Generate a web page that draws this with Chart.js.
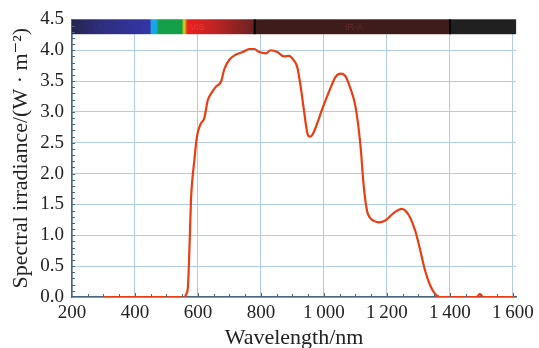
<!DOCTYPE html>
<html>
<head>
<meta charset="utf-8">
<script src="https://cdn.jsdelivr.net/npm/chart.js@4"></script>
<style>
  body { margin: 0; background: #fff; }
  #wrap { width: 539px; height: 348px; }
</style>
</head>
<body>
<div id="wrap"><canvas id="spectrum-chart"></canvas></div>
<script>
'use strict';

// wavelength (nm) and spectral irradiance
const wavelengths = [300, 400, 500, 557, 563, 568, 573, 578, 583, 589, 594, 599, 605, 610, 620, 631, 642, 657, 673, 684,
  700, 721, 742, 763, 779, 794, 816, 831, 852, 873, 889, 905, 915, 926, 936, 947, 955, 962, 973, 994,
  1016, 1037, 1053, 1068, 1084, 1100, 1116, 1126, 1137, 1147, 1160, 1174, 1195, 1221, 1247, 1269, 1290, 1306, 1321, 1337,
  1353, 1369, 1400, 1480, 1488, 1495, 1502, 1510, 1600];
const irradiance = [0, 0, 0, 0, 0.05, 0.16, 0.8, 1.6, 1.95, 2.24, 2.5, 2.66, 2.76, 2.82, 2.9, 3.19, 3.3, 3.41, 3.49, 3.7,
  3.85, 3.93, 3.97, 4.02, 4.02, 3.97, 3.95, 4.0, 3.97, 3.9, 3.91, 3.83, 3.73, 3.41, 3.04, 2.66, 2.6, 2.62, 2.74, 3.04,
  3.33, 3.57, 3.62, 3.58, 3.38, 3.09, 2.45, 1.81, 1.39, 1.28, 1.23, 1.21, 1.24, 1.36, 1.43, 1.33, 1.07, 0.75, 0.43, 0.19,
  0.05, 0, 0, 0, 0.01, 0.05, 0.01, 0, 0];

// axis ticks
const xTicks = [200, 400, 600, 800, 1000, 1200, 1400, 1600];
const yTicks = [0, 0.5, 1, 1.5, 2, 2.5, 3, 3.5, 4, 4.5];

// colour strip along the top of the plot
const stripStops = [200, 300, 447, 452, 468, 475, 548, 556, 566, 572, 650, 779];
const stripColors = ['#262550', '#2e2e80', '#3535a8', '#1aa6e6', '#1aa6e6', '#14a048', '#14a048', '#d8d820', '#e82a20', '#e82020', '#c02424', '#6a2222'];
const stripBands = [780, 1400];
const stripLabels = ['UV', 'VIS', 'IR-A'];
const stripLabelAt = [290, 598, 1095];

const SERIF = '"Liberation Serif", "DejaVu Serif", serif';
const GRID = '#b0cce6';
const AXIS = '#4d6680';

const topStrip = {
  id: 'topStrip',
  beforeDatasetsDraw(chart) {
    const {ctx, chartArea, scales: {x, y}} = chart;
    const x0 = x.getPixelForValue(200);
    const x1 = chartArea.right;
    const yTop = y.getPixelForValue(4.5);
    const yBot = y.getPixelForValue(4.26);
    const h = yBot - yTop;
    const a = x.getPixelForValue(stripBands[0]);
    const b = x.getPixelForValue(stripBands[1]);
    ctx.save();
    const g = ctx.createLinearGradient(x0, 0, a, 0);
    stripStops.forEach((w, i) => {
      g.addColorStop((x.getPixelForValue(w) - x0) / (a - x0), stripColors[i]);
    });
    ctx.fillStyle = g;
    ctx.fillRect(x0, yTop, a - x0, h);
    ctx.fillStyle = '#3f1c1c';
    ctx.fillRect(a, yTop, b - a, h);
    ctx.fillStyle = '#202020';
    ctx.fillRect(b, yTop, x1 - b, h);
    ctx.fillStyle = '#000';
    ctx.fillRect(a - 1, yTop, 2, h);
    ctx.fillRect(b - 1, yTop, 2, h);
    ctx.font = '9px "Liberation Sans", sans-serif';
    ctx.textAlign = 'center';
    ctx.textBaseline = 'middle';
    const labelColors = ['#34347e', '#e83a30', '#6a2a2a'];
    stripLabels.forEach((t, i) => {
      ctx.fillStyle = labelColors[i];
      ctx.fillText(t, x.getPixelForValue(stripLabelAt[i]), yTop + h / 2 + 1);
    });
    ctx.restore();
  }
};

const minorTicks = {
  id: 'minorTicks',
  afterDraw(chart) {
    const {ctx, chartArea, scales: {x, y}} = chart;
    ctx.save();
    ctx.strokeStyle = AXIS;
    ctx.lineWidth = 1;
    ctx.beginPath();
    for (let w = 250; w <= 1600; w += 50) {
      const px = Math.round(x.getPixelForValue(w)) + 0.5;
      const len = w % 200 === 0 ? 4 : 3;
      ctx.moveTo(px, chartArea.bottom);
      ctx.lineTo(px, chartArea.bottom - len);
    }
    for (let v = 0.1; v < 4.5; v += 0.1) {
      const py = Math.round(y.getPixelForValue(v)) + 0.5;
      ctx.moveTo(chartArea.left, py);
      ctx.lineTo(chartArea.left + 3, py);
    }
    ctx.stroke();
    ctx.restore();
  }
};

new Chart(document.querySelector('#spectrum-chart'), {
  type: 'line',
  data: {
    datasets: [{
      data: wavelengths.map((w, i) => ({x: w, y: irradiance[i]})),
      borderColor: '#ea3d12',
      borderWidth: 2.2,
      pointRadius: 0,
      cubicInterpolationMode: 'monotone',
      fill: false
    }]
  },
  options: {
    responsive: true,
    maintainAspectRatio: false,
    animation: false,
    layout: {padding: {top: 14, right: 21, left: 0, bottom: 0}},
    plugins: {legend: {display: false}, tooltip: {enabled: false}},
    scales: {
      x: {
        type: 'linear',
        min: 200,
        max: 1610,
        afterBuildTicks: scale => { scale.ticks = xTicks.map(v => ({value: v})); },
        afterFit: scale => { scale.height = 51; },
        grid: {color: GRID, lineWidth: 1, drawTicks: false},
        border: {color: AXIS, width: 1.5},
        ticks: {
          color: '#222',
          padding: 5,
          maxRotation: 0,
          font: {family: SERIF, size: 19},
          callback: v => v >= 1000 ? Math.floor(v / 1000) + '\u2009' + String(v % 1000).padStart(3, '0') : String(v)
        },
        title: {
          display: true,
          text: 'Wavelength/nm',
          color: '#222',
          padding: {top: 0, bottom: -3},
          font: {family: SERIF, size: 22}
        }
      },
      y: {
        min: 0,
        max: 4.5,
        afterBuildTicks: scale => { scale.ticks = yTicks.map(v => ({value: v})); },
        afterFit: scale => { scale.width = 72; },
        grid: {color: GRID, lineWidth: 1, drawTicks: false},
        border: {color: AXIS, width: 1.5},
        ticks: {
          color: '#222',
          padding: 8,
          font: {family: SERIF, size: 19},
          callback: v => v.toFixed(1)
        },
        title: {
          display: true,
          text: 'Spectral irradiance/(W \u00b7 m\u207b\u00b2)',
          color: '#222',
          padding: {top: 8, bottom: 0},
          font: {family: SERIF, size: 22}
        }
      }
    }
  },
  plugins: [topStrip, minorTicks]
});
</script>
</body>
</html>
